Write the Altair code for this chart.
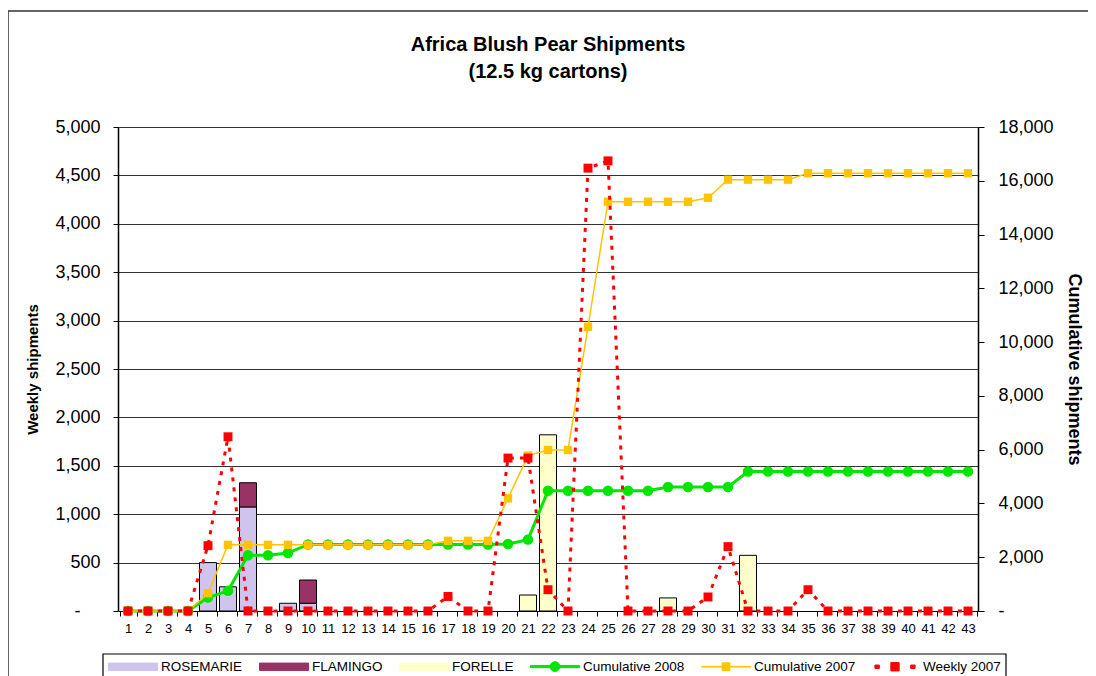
import altair as alt
import pandas as pd

weeks = list(range(1, 44))

rosemarie = [0, 0, 0, 0, 500, 250, 1075, 0, 80, 80] + [0] * 33
flamingo = [0] * 6 + [250, 0, 0, 240] + [0] * 33
forelle = [0] * 20 + [165, 1820] + [0] * 5 + [135] + [0] * 3 + [575] + [0] * 11

cum_2008 = ([0, 0, 0, 0, 500, 750, 2075, 2075, 2155, 2475] + [2475] * 9
            + [2490, 2655, 4475] + [4475] * 5 + [4610] * 4 + [5185] * 12)
cum_2007 = ([0, 0, 0, 0, 660, 2460] + [2460] * 10 + [2610] * 3
            + [4190, 5780, 5990, 5990, 10570, 15220] + [15220] * 4 + [15370]
            + [16040] * 4 + [16280] * 9)
weekly_2007 = ([0, 0, 0, 0, 675, 1800] + [0] * 10 + [150] + [0, 0]
               + [1580, 1580, 220, 0, 4575, 4650] + [0] * 4 + [145, 665]
               + [0] * 3 + [220] + [0] * 8)

series_names = ["ROSEMARIE", "FLAMINGO", "FORELLE",
                "Cumulative 2008", "Cumulative 2007", "Weekly 2007"]
series_colors = ["#CFC4EE", "#993366", "#FFFFCC", "#00E600", "#FFC400", "#FF0000"]
symbol_strokes = ["#000000", "#000000", "#000000", "#00E600", "#FFC400", "#FF0000"]

left_ticks = list(range(0, 5001, 500))
right_ticks = list(range(0, 18001, 2000))

# ---- tables
bar_rows = []
for i, w in enumerate(weeks):
    bar_rows.append({"week": w, "series": "ROSEMARIE", "value": rosemarie[i], "ord": 0})
    bar_rows.append({"week": w, "series": "FLAMINGO", "value": flamingo[i], "ord": 1})
    bar_rows.append({"week": w, "series": "FORELLE", "value": forelle[i], "ord": 2})
bars_df = pd.DataFrame(bar_rows)
c08_df = pd.DataFrame({"week": weeks, "series": "Cumulative 2008", "value": cum_2008})
c07_df = pd.DataFrame({"week": weeks, "series": "Cumulative 2007", "value": cum_2007})
w07_df = pd.DataFrame({"week": weeks, "series": "Weekly 2007", "value": weekly_2007})

FONT = "Liberation Sans"

names_js = "[" + ",".join("'%s'" % n for n in series_names) + "]"


def pick(vals):
    arr = "[" + ",".join("'%s'" % v for v in vals) + "]"
    return {"expr": "%s[indexof(%s, datum.value)]" % (arr, names_js)}


# legend symbol outlines (unit box -1..1 spans the symbol width)
rect_path = "M-1,-0.15H1V0.15H-1Z"
c08_path = ("M-1,-0.045H1V0.045H-1Z M0.2,0A0.2,0.2 0 1,1 -0.2,0A0.2,0.2 0 1,1 0.2,0Z")
c07_path = "M-1,-0.015H1V0.015H-1Z M-0.16,-0.16H0.16V0.16H-0.16Z"
w07_path = ("M-0.82,-0.07H-0.64V0.07H-0.82Z M-0.17,-0.17H0.17V0.17H-0.17Z "
            "M0.64,-0.07H0.82V0.07H0.64Z")

legend = alt.Legend(
    title=None,
    orient="none",
    legendX=-10,
    legendY=514.5,
    direction="horizontal",
    columns=6,
    symbolSize=2401,
    symbolType=pick([rect_path, rect_path, rect_path, c08_path, c07_path, w07_path]),
    symbolFillColor=pick(series_colors),
    symbolStrokeColor=pick(symbol_strokes),
    symbolStrokeWidth=1,
    symbolOpacity=1,
    labelFont=FONT,
    labelFontSize=13.5,
    labelColor="black",
    labelOffset=3,
    columnPadding=14,
    padding=0,
)

color = alt.Color("series:N",
                  scale=alt.Scale(domain=series_names, range=series_colors),
                  legend=legend)

x_enc = alt.X("week:O",
              scale=alt.Scale(domain=weeks, paddingInner=0.15, paddingOuter=0.075),
              axis=alt.Axis(title=None, labelAngle=0, tickBand="extent", tickSize=5,
                            labelFont=FONT, labelFontSize=13, labelColor="black",
                            labelPadding=6, domainColor="black", tickColor="black",
                            grid=False))

zero_fmt = "datum.value == 0 ? '-' : format(datum.value, ',')"

left_axis = alt.Axis(values=left_ticks, labelExpr=zero_fmt, title="Weekly shipments",
                     titleFont=FONT, titleFontSize=15, titleFontWeight="bold",
                     titleColor="black", titlePadding=14,
                     labelFont=FONT, labelFontSize=18, labelColor="black",
                     labelPadding={"condition": {"test": "datum.value == 0", "value": 33},
                                   "value": 13},
                     tickSize=5, tickColor="black",
                     domainColor="black", domainWidth=1.5,
                     grid=True, gridColor="#333333", gridWidth=1)

right_axis = alt.Axis(values=right_ticks, labelExpr=zero_fmt, orient="right",
                      title="Cumulative shipments",
                      titleFont=FONT, titleFontSize=18, titleFontWeight="bold",
                      titleColor="black", titlePadding=11,
                      labelFont=FONT, labelFontSize=18, labelColor="black",
                      labelPadding=14, tickSize=6, tickColor="black",
                      domainColor="black", domainWidth=1.5, grid=False)

y_left = alt.Scale(domain=[0, 5000], nice=False)
y_right = alt.Scale(domain=[0, 18000], nice=False)

bars = alt.Chart(bars_df).transform_filter("datum.value > 0").mark_bar(
    stroke="black", strokeWidth=1
).encode(
    x=x_enc,
    y=alt.Y("value:Q", stack="zero", scale=y_left, axis=left_axis),
    color=color,
    order=alt.Order("ord:Q"),
)

c08_base = alt.Chart(c08_df).encode(
    x=x_enc, y=alt.Y("value:Q", scale=y_right, axis=right_axis), color=color)
c08_line = c08_base.mark_line(strokeWidth=3)
c08_pts = c08_base.mark_point(filled=True, shape="circle", size=110, opacity=1)

c07_base = alt.Chart(c07_df).encode(
    x=x_enc, y=alt.Y("value:Q", scale=y_right, axis=right_axis), color=color)
c07_line = c07_base.mark_line(strokeWidth=1.5)
c07_pts = c07_base.mark_point(filled=True, shape="square", size=70, opacity=1)

right_group = alt.layer(c08_line, c08_pts, c07_line, c07_pts)

w07_base = alt.Chart(w07_df).encode(
    x=x_enc, y=alt.Y("value:Q", scale=y_left, axis=None), color=color)
w07_line = w07_base.mark_line(strokeWidth=3, strokeDash=[4, 6])
w07_pts = w07_base.mark_point(filled=True, shape="square", size=80, opacity=1)
weekly_group = alt.layer(w07_line, w07_pts)

deco = pd.DataFrame({"a": [0]})
frame = alt.Chart(deco).mark_rect(
    filled=False, stroke="#333333", strokeWidth=1.5
).encode(x=alt.value(-110), x2=alt.value(1010), y=alt.value(-116), y2=alt.value(600))

legend_box = alt.Chart(deco).mark_rect(
    filled=False, stroke="#000000", strokeWidth=1.2
).encode(x=alt.value(-15), x2=alt.value(888), y=alt.value(527), y2=alt.value(560))

chart = alt.layer(bars, right_group, weekly_group, frame, legend_box).resolve_scale(
    y="independent"
).properties(
    width=860,
    height=484,
    autosize=alt.AutoSizeParams(type="none"),
    padding={"left": 110, "top": 119, "right": 110, "bottom": 65},
    title=alt.TitleParams(
        text=["Africa Blush Pear Shipments", "(12.5 kg cartons)"],
        font=FONT, fontSize=20, fontWeight="bold", color="black",
        lineHeight=27, anchor="middle", offset=-72,
    ),
).configure_view(stroke=None)

chart.save("out.html", embed_options={"renderer": "svg", "actions": False})
